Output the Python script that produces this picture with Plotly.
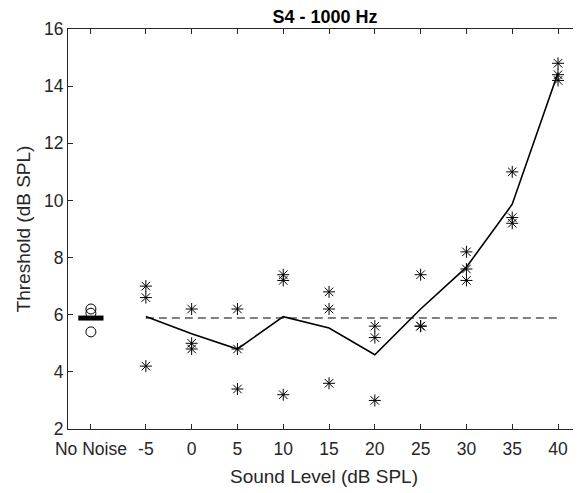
import numpy as np
import plotly.graph_objects as go

# sound levels (dB SPL) and three threshold runs at each level
levels = [-5, 0, 5, 10, 15, 20, 25, 30, 35, 40]
run1 = [7.0, 6.2, 6.2, 7.4, 6.8, 5.6, 7.4, 8.2, 11.0, 14.8]
run2 = [6.6, 5.0, 4.8, 7.2, 6.2, 5.2, 5.6, 7.6, 9.4, 14.4]
run3 = [4.2, 4.8, 3.4, 3.2, 3.6, 3.0, 5.6, 7.2, 9.2, 14.2]

# no-noise baseline thresholds, plotted at x = -11
no_noise_x = -11
no_noise = [6.2, 6.05, 5.4]

tick_vals = [-11, -5, 0, 5, 10, 15, 20, 25, 30, 35, 40]
tick_text = ['No Noise', '-5', '0', '5', '10', '15', '20', '25', '30', '35', '40']

means = np.mean([run1, run2, run3], axis=0)
base = float(np.mean(no_noise))

axis_col = '#262626'
font = 'Liberation Sans, Arial, sans-serif'

fig = go.Figure()

# baseline dashed reference
fig.add_trace(go.Scatter(x=[levels[0], levels[-1]], y=[base, base], mode='lines',
                         line=dict(color='#808080', width=2, dash='8px,5px'), hoverinfo='skip'))

# mean across runs
fig.add_trace(go.Scatter(x=levels, y=means, mode='lines',
                         line=dict(color='black', width=1.6)))

# individual runs
for run in (run1, run2, run3):
    fig.add_trace(go.Scatter(x=levels, y=run, mode='markers',
                             marker=dict(symbol='asterisk-open', size=10, color='black',
                                         line=dict(color='black', width=1))))

# no-noise runs and their mean
fig.add_trace(go.Scatter(x=[no_noise_x] * len(no_noise), y=no_noise, mode='markers',
                         marker=dict(symbol='circle-open', size=10, color='black',
                                     line=dict(color='black', width=1))))
fig.add_trace(go.Scatter(x=[no_noise_x], y=[base], mode='markers',
                         marker=dict(symbol='line-ew-open', size=18, color='black',
                                     line=dict(color='black', width=5))))

# page body has an 8px margin, so the figure is shifted by 8px
fig.update_layout(
    width=573, height=485,
    margin=dict(l=60, r=1, t=21, b=64),
    paper_bgcolor='white', plot_bgcolor='white',
    showlegend=False,
    font=dict(family=font, size=17.5, color=axis_col),
    title=dict(text='<b>S4 - 1000 Hz</b>', x=317 / 573, xanchor='center',
               y=1 - 9 / 485, yanchor='middle', font=dict(size=18, color='black')),
)
fig.update_xaxes(range=[-13.5, 42.4], tickvals=tick_vals, ticktext=tick_text,
                 ticks='inside', ticklen=5, tickcolor=axis_col, showgrid=False, zeroline=False,
                 showline=True, linecolor=axis_col, linewidth=1, mirror='ticks',
                 ticklabelstandoff=4,
                 title=dict(text='Sound Level (dB SPL)', font=dict(size=19), standoff=11),
                 tickfont=dict(size=17.5))
fig.update_yaxes(range=[2, 16], tickvals=[2, 4, 6, 8, 10, 12, 14, 16],
                 ticks='inside', ticklen=5, tickcolor=axis_col, showgrid=False, zeroline=False,
                 showline=True, linecolor=axis_col, linewidth=1, mirror='ticks',
                 title=dict(text='Threshold (dB SPL)', font=dict(size=19), standoff=8),
                 tickfont=dict(size=17.5))

fig.write_html('out.html')
